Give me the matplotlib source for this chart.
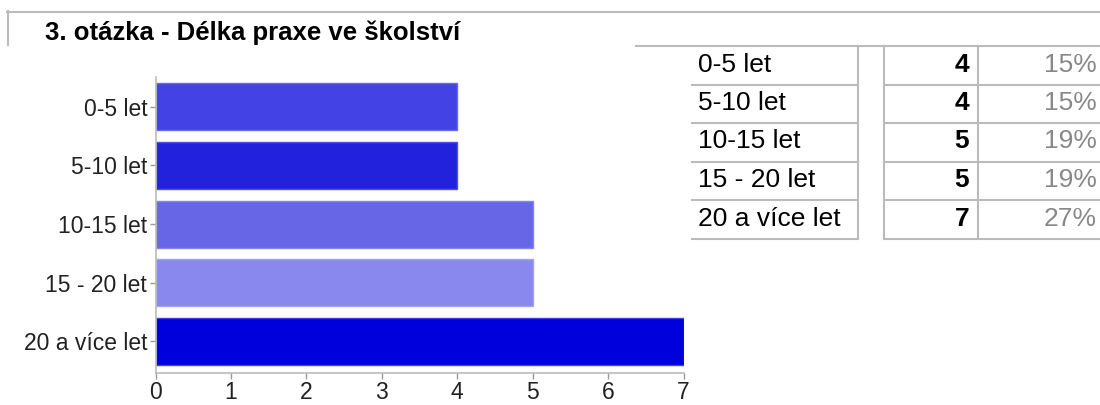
import matplotlib
matplotlib.use("Agg")
import matplotlib.pyplot as plt
from matplotlib.lines import Line2D

plt.rcParams['font.family'] = ['Liberation Sans', 'DejaVu Sans']

title = "3. otázka - Délka praxe ve školství"
categories = ["0-5 let", "5-10 let", "10-15 let", "15 - 20 let", "20 a více let"]
counts = [4, 4, 5, 5, 7]
percents = ["15%", "15%", "19%", "19%", "27%"]
bar_colors = ["#4343E5", "#2222DD", "#6666E6", "#8888EE", "#0000DD"]
edge_colors = ["#6a6aea", "#5050e4", "#8585ec", "#a3a3f2", "#4040e6"]
xticks = [0, 1, 2, 3, 4, 5, 6, 7]

W, H = 1100, 405
fig = plt.figure(figsize=(W / 100, H / 100), dpi=100)

def fx(px):
    return px / W

def fy(py):
    return 1 - py / H

# axes placement (pixels)
ax_l, ax_r, ax_t, ax_b = 155.5, 683.5, 77, 373
ax = fig.add_axes([fx(ax_l), fy(ax_b), (ax_r - ax_l) / W, (ax_b - ax_t) / H])
ypos = list(range(len(categories)))
ax.barh(ypos, counts, height=0.8, color=bar_colors, edgecolor=edge_colors, linewidth=1)
ax.set_xlim(0, 7)
ax.set_ylim(4.537, -0.506)
ax.set_yticks(ypos)
ax.set_yticklabels(categories)
ax.set_xticks(xticks)
ax.set_xticklabels([str(t) for t in xticks])
for s in ['top', 'right']:
    ax.spines[s].set_visible(False)
for s in ['left', 'bottom']:
    ax.spines[s].set_color('#bbbbbb')
    ax.spines[s].set_linewidth(1.2)
ax.tick_params(axis='y', length=4, width=1, color='#999999', pad=2,
               labelsize=16.5, labelcolor='#222222')
ax.tick_params(axis='x', length=4, width=1, color='#999999', pad=2,
               labelsize=16.5, labelcolor='#222222')

# title frame
lc = '#bbbbbb'
lw = 1.5
fig.add_artist(Line2D([fx(7), fx(1100)], [fy(11.5), fy(11.5)], color=lc, lw=lw))
fig.add_artist(Line2D([fx(7.5), fx(7.5)], [fy(11), fy(45)], color=lc, lw=lw))
fig.text(fx(45), fy(40), title, fontsize=18.5, fontweight='bold',
         ha='left', va='baseline', color='#000000')

# table
rows = [46, 84.5, 123, 161.5, 200, 238.5]
fig.add_artist(Line2D([fx(636), fx(1100)], [fy(rows[0]), fy(rows[0])], color=lc, lw=lw))
for r in rows[1:]:
    fig.add_artist(Line2D([fx(692), fx(858)], [fy(r), fy(r)], color=lc, lw=lw))
    fig.add_artist(Line2D([fx(884), fx(1100)], [fy(r), fy(r)], color=lc, lw=lw))
for vx in [858, 884, 978]:
    fig.add_artist(Line2D([fx(vx), fx(vx)], [fy(rows[0]), fy(rows[-1])], color=lc, lw=lw))

for i, (cat, c, p) in enumerate(zip(categories, counts, percents)):
    base = rows[i] + 25.5
    fig.text(fx(698), fy(base), cat, fontsize=19, ha='left', va='baseline', color='#000000')
    fig.text(fx(969), fy(base), str(c), fontsize=19, fontweight='bold',
             ha='right', va='baseline', color='#000000')
    fig.text(fx(1097), fy(base), p, fontsize=19, ha='right', va='baseline', color='#888888')

fig.savefig("out.png", dpi=100)
